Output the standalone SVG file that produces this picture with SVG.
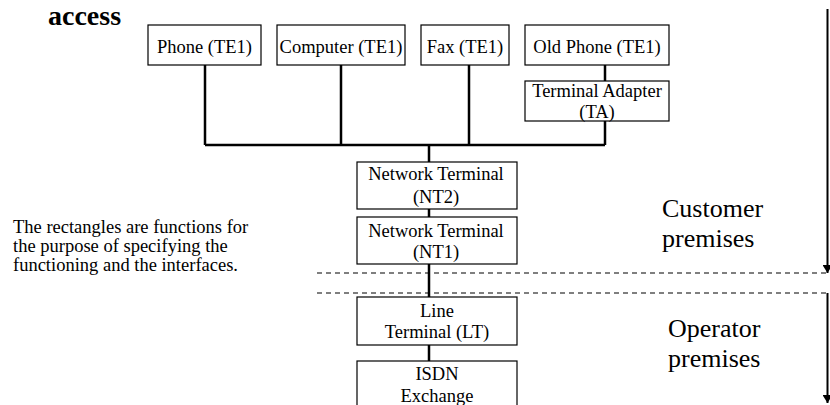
<svg xmlns="http://www.w3.org/2000/svg" width="830" height="405" viewBox="0 0 830 405">
<style>
.box{fill:#fff;stroke:#000;stroke-width:1.2}
.t{font-family:"Liberation Serif","Times New Roman",serif;font-size:18.5px;fill:#000;text-anchor:middle}
.note{font-family:"Liberation Serif","Times New Roman",serif;font-size:18.5px;fill:#000}
.big{font-family:"Liberation Serif","Times New Roman",serif;font-size:26px;fill:#000}
.wire{stroke:#000;stroke-width:2.5;fill:none}
.dash{stroke:#000;stroke-width:1.2;stroke-dasharray:5 4;fill:none}
.arr{stroke:#000;stroke-width:2;fill:none;marker-end:url(#ah)}
</style>
<defs>
<marker id="ah" viewBox="0 0 8 10" refX="8" refY="5" markerWidth="4" markerHeight="5" orient="auto" markerUnits="strokeWidth">
<path d="M0,0 L8,5 L0,10 Z" fill="#000"/>
</marker>
</defs>
<rect width="830" height="405" fill="#fff"/>
<text x="48" y="25" font-family="Liberation Serif, Times New Roman, serif" font-size="28" font-weight="bold">access</text>
<g id="connectors">
<path class="wire" d="M205,65 V145 M341,65 V145 M469,65 V145 M605,121 V145 M205,145 H605 M605,65 V81 M429,145 V162 M429,209 V217 M429,264 V297 M429,345 V361"/>
<path class="dash" d="M317,273 H827 M317,293 H827"/>
<path class="arr" d="M827.5,9 V273"/>
<path class="arr" d="M827.5,293 V403"/>
</g>
<g id="phone"><rect class="box" x="148" y="25" width="113" height="40"/><text class="t" x="204.5" y="53">Phone (TE1)</text></g>
<g id="computer"><rect class="box" x="277" y="25" width="128" height="40"/><text class="t" x="341" y="53">Computer (TE1)</text></g>
<g id="fax"><rect class="box" x="421" y="25" width="88" height="40"/><text class="t" x="465" y="53">Fax (TE1)</text></g>
<g id="oldphone"><rect class="box" x="525" y="25" width="144" height="40"/><text class="t" x="597" y="53">Old Phone (TE1)</text></g>
<g id="ta"><rect class="box" x="525" y="81" width="144" height="40"/><text class="t" x="597" y="97">Terminal Adapter</text><text class="t" x="597" y="118">(TA)</text></g>
<g id="nt2"><rect class="box" x="357" y="162" width="160" height="47"/><text class="t" x="436" y="180">Network Terminal</text><text class="t" x="436" y="203">(NT2)</text></g>
<g id="nt1"><rect class="box" x="357" y="217" width="160" height="47"/><text class="t" x="436" y="237">Network Terminal</text><text class="t" x="436" y="258">(NT1)</text></g>
<g id="lt"><rect class="box" x="357" y="297" width="160" height="48"/><text class="t" x="437" y="317">Line</text><text class="t" x="437" y="338">Terminal (LT)</text></g>
<g id="isdn"><rect class="box" x="357" y="361" width="160" height="60"/><text class="t" x="437" y="380">ISDN</text><text class="t" x="437" y="402">Exchange</text></g>
<text class="note" x="13" y="233">The rectangles are functions for</text>
<text class="note" x="13" y="252">the purpose of specifying the</text>
<text class="note" x="13" y="271">functioning and the interfaces.</text>
<text class="big" x="662" y="217">Customer</text>
<text class="big" x="662" y="247">premises</text>
<text class="big" x="668" y="337">Operator</text>
<text class="big" x="668" y="367">premises</text>
</svg>
